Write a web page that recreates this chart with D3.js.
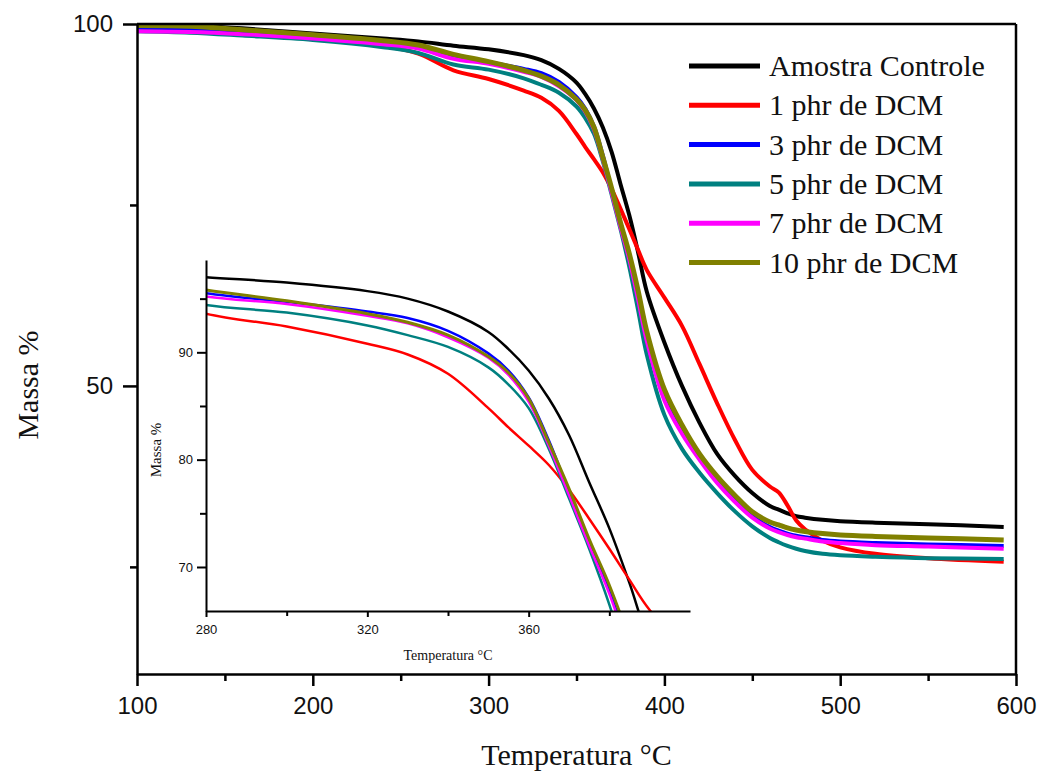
<!DOCTYPE html>
<html>
<head>
<meta charset="utf-8">
<title>TGA</title>
<script src="https://cdn.jsdelivr.net/npm/d3@7"></script>
<style>
  body { margin: 0; background: #fff; }
  .tick text { fill: #111; }
</style>
</head>
<body>
<div id="chart"></div>
<script>
// temperatures (°C) shared by all series
var temps = [100,130,160,200,240,260,280,300,320,330,340,350,355,360,365,370,375,380,385,390,400,410,420,430,440,450,460,465,470,475,480,490,500,520,550,593];

// mass % for each sample
var controle = [100.0,99.8,99.4,98.7,98.0,97.6,97.0,96.5,95.7,95.0,93.8,91.9,90.3,88.3,85.7,82.3,77.9,73.6,68.5,63.0,56.0,50.0,44.9,40.6,37.6,35.2,33.4,32.9,32.4,32.0,31.8,31.5,31.3,31.1,30.9,30.5];
var phr1 = [99.2,99.0,98.6,98.0,97.0,95.9,93.6,92.4,90.8,89.8,88.0,84.8,83.0,81.3,79.5,77.2,74.5,71.7,68.8,66.0,62.2,58.3,53.0,47.6,42.6,38.4,36.1,35.3,33.5,31.4,30.2,28.6,27.7,26.8,26.2,25.7];
var phr3 = [99.4,99.2,98.8,98.2,97.4,96.8,95.5,94.7,93.8,93.2,92.0,89.9,88.3,85.8,81.8,77.0,72.3,67.8,62.3,56.5,48.3,43.7,40.1,36.9,34.3,32.0,30.5,30.0,29.6,29.3,29.1,28.7,28.5,28.3,28.1,27.9];
var phr5 = [99.0,98.8,98.4,97.8,96.8,96.0,94.4,93.7,92.5,91.6,90.5,88.6,87.0,84.8,81.0,76.4,71.7,66.5,60.5,54.3,46.0,41.3,38.0,35.2,32.7,30.6,29.0,28.4,27.9,27.5,27.2,26.8,26.6,26.4,26.2,26.1];
var phr7 = [99.0,98.9,98.6,98.0,97.2,96.6,95.2,94.5,93.4,92.7,91.4,89.5,87.9,85.4,81.3,76.7,72.0,67.5,62.0,56.2,48.0,43.4,39.8,36.6,34.0,31.8,30.3,29.8,29.4,29.1,28.9,28.5,28.3,28.0,27.8,27.5];
var phr10 = [99.8,99.7,99.2,98.5,97.7,97.1,95.8,94.8,93.6,92.8,91.6,89.6,88.1,85.7,81.6,77.3,72.6,68.3,63.2,57.5,49.5,44.6,40.6,37.5,34.9,32.6,31.2,30.8,30.4,30.1,29.9,29.6,29.4,29.2,29.0,28.7];

var names = ["Amostra Controle", "1 phr de DCM", "3 phr de DCM", "5 phr de DCM", "7 phr de DCM", "10 phr de DCM"];
var colors = ["#000000", "#ff0000", "#0000ff", "#008080", "#ff00ff", "#808000"];

var series = [controle, phr1, phr3, phr5, phr7, phr10].map(function (v, i) {
    return {
        name: names[i],
        color: colors[i],
        values: v.map(function (m, j) { return { t: temps[j], m: m }; })
    };
});

var w = 1043, h = 773;
var svg = d3.select("#chart").append("svg")
    .attr("width", w)
    .attr("height", h);

// main scales
var x = d3.scaleLinear().domain([100, 600]).range([137, 1016]);
var y = d3.scaleLinear().domain([10.2, 100]).range([674, 24]);

// inset scales
var xi = d3.scaleLinear().domain([280, 400]).range([206, 690]);
var yi = d3.scaleLinear().domain([65.9, 98.6]).range([611, 260]);

var defs = svg.append("defs");
defs.append("clipPath").attr("id", "clipMain").append("rect")
    .attr("x", 137).attr("y", 24).attr("width", 1016 - 137).attr("height", 674 - 24);
defs.append("clipPath").attr("id", "clipInset").append("rect")
    .attr("x", 206).attr("y", 260).attr("width", 690 - 206).attr("height", 611 - 260);

// main curves
var line = d3.line()
    .x(function (d) { return x(d.t); })
    .y(function (d) { return y(d.m); })
    .curve(d3.curveCatmullRom.alpha(0.5));

svg.append("g").attr("clip-path", "url(#clipMain)")
    .selectAll("path")
    .data(series)
    .enter()
    .append("path")
    .attr("d", function (d) { return line(d.values); })
    .attr("fill", "none")
    .attr("stroke", function (d) { return d.color; })
    .attr("stroke-width", function (d, i) { return i == 5 ? 5 : 4; })
    .attr("stroke-linejoin", "round");

// main axes
function styleAxis(g, sw, fontSize, fontFamily) {
    g.selectAll("path, line").attr("stroke", "#000").attr("stroke-width", sw);
    g.selectAll("text").attr("font-size", fontSize).attr("font-family", fontFamily);
}

var mainFont = "'Liberation Sans', Arial, sans-serif";

svg.append("g")
    .attr("transform", "translate(0,674)")
    .call(d3.axisBottom(x).tickValues([100, 200, 300, 400, 500, 600]).tickSize(12).tickSizeOuter(0).tickPadding(11))
    .call(styleAxis, 2.5, "24px", mainFont);
svg.append("g")
    .attr("transform", "translate(0,674)")
    .call(d3.axisBottom(x).tickValues([150, 250, 350, 450, 550]).tickSize(7).tickFormat(""))
    .call(function (g) { g.select(".domain").remove(); })
    .call(styleAxis, 2.5, "24px", mainFont);

svg.append("g")
    .attr("transform", "translate(137,0)")
    .call(d3.axisLeft(y).tickValues([50, 100]).tickSize(14).tickSizeOuter(0).tickPadding(10))
    .call(styleAxis, 2.5, "24px", mainFont);
svg.append("g")
    .attr("transform", "translate(137,0)")
    .call(d3.axisLeft(y).tickValues([25, 75]).tickSize(7).tickFormat(""))
    .call(function (g) { g.select(".domain").remove(); })
    .call(styleAxis, 2.5, "24px", mainFont);

// top and right frame
svg.append("line").attr("x1", 137).attr("x2", 1016).attr("y1", 24).attr("y2", 24)
    .attr("stroke", "#000").attr("stroke-width", 2.5);
svg.append("line").attr("x1", 1016).attr("x2", 1016).attr("y1", 24).attr("y2", 674)
    .attr("stroke", "#000").attr("stroke-width", 2.5);

// axis titles
var serif = "'Liberation Serif', 'Times New Roman', serif";
svg.append("text")
    .attr("x", (137 + 1016) / 2).attr("y", 765)
    .attr("text-anchor", "middle")
    .attr("font-family", serif).attr("font-size", "30px").attr("fill", "#111")
    .text("Temperatura °C");
svg.append("text")
    .attr("transform", "translate(38,385) rotate(-90)")
    .attr("text-anchor", "middle")
    .attr("font-family", serif).attr("font-size", "30px").attr("fill", "#111")
    .text("Massa %");

// legend
var legend = svg.append("g").selectAll("g")
    .data(series)
    .enter()
    .append("g")
    .attr("transform", function (d, i) { return "translate(689," + (66 + i * 39.3) + ")"; });
legend.append("line")
    .attr("x1", 0).attr("x2", 71).attr("y1", 0).attr("y2", 0)
    .attr("stroke", function (d) { return d.color; })
    .attr("stroke-width", 5);
legend.append("text")
    .attr("x", 80).attr("y", 10)
    .attr("font-family", serif).attr("font-size", "30px").attr("fill", "#111")
    .text(function (d) { return d.name; });

// inset curves
var lineInset = d3.line()
    .x(function (d) { return xi(d.t); })
    .y(function (d) { return yi(d.m); })
    .curve(d3.curveCatmullRom.alpha(0.5));

svg.append("g").attr("clip-path", "url(#clipInset)")
    .selectAll("path")
    .data(series)
    .enter()
    .append("path")
    .attr("d", function (d) { return lineInset(d.values); })
    .attr("fill", "none")
    .attr("stroke", function (d) { return d.color; })
    .attr("stroke-width", function (d, i) { return i == 5 ? 3 : 2.5; });

// inset axes
var insetFont = "'Liberation Sans', Arial, sans-serif";
svg.append("g")
    .attr("transform", "translate(0,611)")
    .call(d3.axisBottom(xi).tickValues([280, 320, 360]).tickSize(6).tickSizeOuter(0).tickPadding(8))
    .call(styleAxis, 2, "13px", insetFont);
svg.append("g")
    .attr("transform", "translate(0,611)")
    .call(d3.axisBottom(xi).tickValues([300, 340, 380]).tickSize(5).tickFormat(""))
    .call(function (g) { g.select(".domain").remove(); })
    .call(styleAxis, 2, "13px", insetFont);
svg.append("g")
    .attr("transform", "translate(206,0)")
    .call(d3.axisLeft(yi).tickValues([70, 80, 90]).tickSize(9).tickSizeOuter(0).tickPadding(4))
    .call(styleAxis, 2, "13px", insetFont);
svg.append("g")
    .attr("transform", "translate(206,0)")
    .call(d3.axisLeft(yi).tickValues([75, 85, 95]).tickSize(6).tickFormat(""))
    .call(function (g) { g.select(".domain").remove(); })
    .call(styleAxis, 2, "13px", insetFont);

svg.append("text")
    .attr("x", 448).attr("y", 660)
    .attr("text-anchor", "middle")
    .attr("font-family", serif).attr("font-size", "14px").attr("fill", "#111")
    .text("Temperatura °C");
svg.append("text")
    .attr("transform", "translate(161,450) rotate(-90)")
    .attr("text-anchor", "middle")
    .attr("font-family", serif).attr("font-size", "15px").attr("fill", "#111")
    .text("Massa %");
</script>
</body>
</html>
